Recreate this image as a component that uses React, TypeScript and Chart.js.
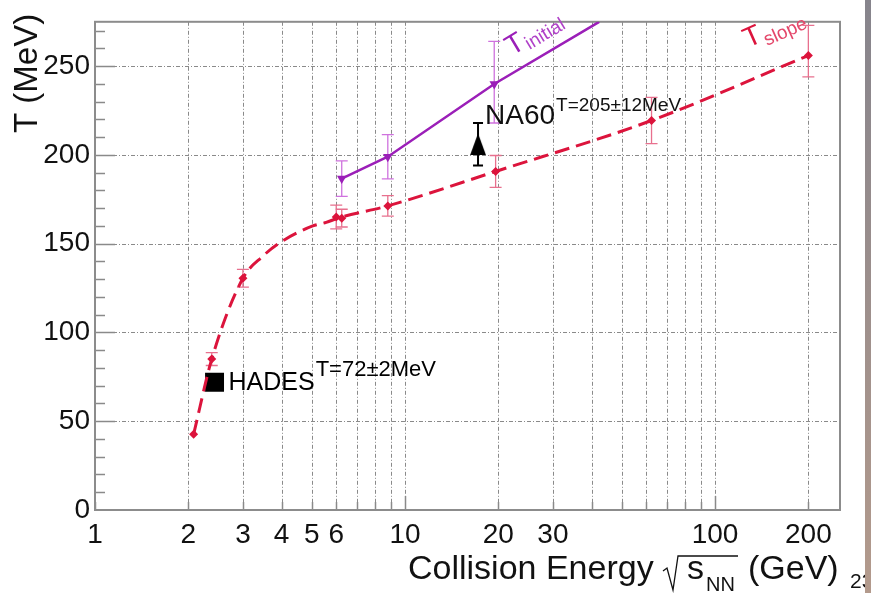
import React, { useEffect, useRef } from "react";
import { Chart, registerables } from "chart.js";

Chart.register(...registerables);

const FONT = "'Liberation Sans', Arial, Helvetica, sans-serif";

// ---- axes ----
const xGridValues = [1, 2, 3, 4, 5, 6, 7, 8, 9, 10, 20, 30, 40, 50, 60, 70, 80, 90, 100, 200];
const xLabelValues = [1, 2, 3, 4, 5, 6, 10, 20, 30, 100, 200];
const yTickValues = [0, 50, 100, 150, 200, 250];
const yMinorTickValues = [10, 20, 30, 40, 50, 60, 70, 80, 90, 100, 110, 120, 130, 140, 150, 160, 170, 180, 190, 200, 210, 220, 230, 240, 250, 260, 270];

// ---- T_slope (red, dashed) ----
const slopeEnergy = [2.08, 2.38, 3.0, 6.0, 6.25, 8.8, 19.6, 62.4, 200];
const slopeT = [42.6, 85, 130.5, 165, 164.4, 171.3, 190.7, 219.4, 256];
const slopeErrUp = [0, 3.6, 5, 6.7, 5, 5.8, 9, 13, 17];
const slopeErrDown = [0, 3.6, 5, 6.7, 5, 5.8, 9, 13, 12];
const slopeCurveEnergy = [2.08, 2.38, 3.0, 3.48, 3.94, 5.04, 5.57, 6.1, 8.8, 19.6, 62.4, 200];
const slopeCurveT = [42.6, 85, 130.5, 143, 150.5, 160, 162, 164.5, 171.3, 190.7, 219.4, 256];

// ---- T_initial (purple, solid) ----
const initialEnergy = [6.25, 8.8, 19.4];
const initialT = [186.7, 199, 240];
const initialErrUp = [10, 12.5, 24];
const initialErrDown = [10, 12.5, 22];
const initialLineEnergy = [6.25, 8.8, 19.4, 42.3];
const initialLineT = [186.7, 199, 240, 275];

// ---- single measurements ----
const na60Energy = [17.2];
const na60T = [206];
const na60Err = [12];
const hadesEnergy = [2.43];
const hadesT = [72];

const RED = "#dc143c";
const RED_ERR = "#e8708e";
const PURPLE = "#9b1fb8";
const PURPLE_ERR = "#cf72de";

const pts = (xs: number[], ys: number[]) => xs.map((v, i) => ({ x: v, y: ys[i] }));

function makeTriangleUp(): HTMLCanvasElement {
  const c = document.createElement("canvas");
  c.width = 16;
  c.height = 22;
  const g = c.getContext("2d")!;
  g.fillStyle = "#000";
  g.beginPath();
  g.moveTo(8, 0);
  g.lineTo(16, 22);
  g.lineTo(0, 22);
  g.closePath();
  g.fill();
  return c;
}

function drawErrors(
  ctx: CanvasRenderingContext2D,
  chart: any,
  xs: number[],
  ys: number[],
  up: number[],
  down: number[],
  color: string,
  lw: number,
  cap: number
) {
  const sx = chart.scales.x;
  const sy = chart.scales.y;
  ctx.save();
  ctx.strokeStyle = color;
  ctx.lineWidth = lw;
  ctx.setLineDash([]);
  xs.forEach((xv, i) => {
    if (!up[i] && !down[i]) return;
    const px = sx.getPixelForValue(xv);
    const top = sy.getPixelForValue(ys[i] + up[i]);
    const bot = sy.getPixelForValue(ys[i] - down[i]);
    ctx.beginPath();
    ctx.moveTo(px, top);
    ctx.lineTo(px, bot);
    ctx.moveTo(px - cap, top);
    ctx.lineTo(px + cap, top);
    ctx.moveTo(px - cap, bot);
    ctx.lineTo(px + cap, bot);
    ctx.stroke();
  });
  ctx.restore();
}

function supText(
  ctx: CanvasRenderingContext2D,
  x: number,
  base: number,
  main: string,
  mainSize: number,
  sup: string,
  supSize: number,
  rise: number
) {
  ctx.font = `${mainSize}px ${FONT}`;
  ctx.fillText(main, x, base);
  const w = ctx.measureText(main).width;
  ctx.font = `${supSize}px ${FONT}`;
  ctx.fillText(sup, x + w + 1, base - rise);
}

function rotLabel(
  ctx: CanvasRenderingContext2D,
  x: number,
  y: number,
  deg: number,
  colMain: string,
  colSub: string,
  sub: string,
  subDy: number
) {
  ctx.save();
  ctx.translate(x, y);
  ctx.rotate((deg * Math.PI) / 180);
  ctx.textAlign = "left";
  ctx.textBaseline = "alphabetic";
  ctx.fillStyle = colMain;
  ctx.font = `28px ${FONT}`;
  ctx.fillText("T", 0, 0);
  const w = ctx.measureText("T").width;
  ctx.fillStyle = colSub;
  ctx.font = `19px ${FONT}`;
  ctx.fillText(sub, w + 1, subDy);
  ctx.restore();
}

const rootPlugin = {
  id: "rootStyle",
  beforeDatasetsDraw(chart: any) {
    const { ctx, chartArea: a } = chart;
    const sx = chart.scales.x;
    const sy = chart.scales.y;
    ctx.save();
    // dotted grid
    ctx.strokeStyle = "#8a8a8a";
    ctx.lineWidth = 1;
    ctx.setLineDash([4, 2, 1, 2]);
    for (const v of xGridValues) {
      if (v === 1) continue;
      const px = Math.round(sx.getPixelForValue(v)) + 0.5;
      ctx.beginPath();
      ctx.moveTo(px, a.top);
      ctx.lineTo(px, a.bottom);
      ctx.stroke();
    }
    for (const v of yTickValues) {
      if (v === 0) continue;
      const py = Math.round(sy.getPixelForValue(v)) + 0.5;
      ctx.beginPath();
      ctx.moveTo(a.left, py);
      ctx.lineTo(a.right, py);
      ctx.stroke();
    }
    ctx.setLineDash([]);
    // tick marks
    ctx.strokeStyle = "#8a8a8a";
    ctx.lineWidth = 1.5;
    for (const v of yMinorTickValues) {
      const py = Math.round(sy.getPixelForValue(v)) + 0.5;
      const len = v % 50 === 0 ? 20 : 10;
      ctx.beginPath();
      ctx.moveTo(a.left, py);
      ctx.lineTo(a.left + len, py);
      ctx.stroke();
    }
    for (const v of xGridValues) {
      const px = Math.round(sx.getPixelForValue(v)) + 0.5;
      const len = v === 10 || v === 100 ? 14 : 8;
      ctx.beginPath();
      ctx.moveTo(px, a.bottom);
      ctx.lineTo(px, a.bottom - len);
      ctx.stroke();
    }
    // frame
    ctx.strokeStyle = "#8c8c8c";
    ctx.lineWidth = 2;
    ctx.strokeRect(a.left, a.top, a.right - a.left, a.bottom - a.top);
    // error bars
    drawErrors(ctx, chart, slopeEnergy, slopeT, slopeErrUp, slopeErrDown, RED_ERR, 1.3, 6);
    drawErrors(ctx, chart, initialEnergy, initialT, initialErrUp, initialErrDown, PURPLE_ERR, 1.3, 6);
    drawErrors(ctx, chart, na60Energy, na60T, na60Err, na60Err, "#000", 2, 5);
    ctx.restore();
  },
  afterDatasetsDraw(chart: any) {
    const { ctx } = chart;
    const sx = chart.scales.x;
    const sy = chart.scales.y;
    ctx.save();
    ctx.textAlign = "left";
    ctx.textBaseline = "alphabetic";
    ctx.fillStyle = "#000";
    // HADES label
    const hx = sx.getPixelForValue(hadesEnergy[0]);
    const hy = sy.getPixelForValue(hadesT[0]);
    supText(ctx, hx + 14, hy + 8, "HADES", 25, "T=72\u00b12MeV", 22, 14);
    // NA60 label
    const nx = sx.getPixelForValue(na60Energy[0]);
    const ny = sy.getPixelForValue(na60T[0]);
    ctx.fillStyle = "#111";
    supText(ctx, nx + 7, ny - 20, "NA60", 28, "T=205\u00b112MeV", 19, 13);
    // rotated curve labels
    rotLabel(ctx, 512, 56, -31, PURPLE, "#b041c8", "initial", 4);
    rotLabel(ctx, 748, 48, -24, RED, "#e4476a", "slope", 6);
    ctx.restore();
  },
  afterDraw(chart: any) {
    const { ctx } = chart;
    ctx.save();
    ctx.fillStyle = "#000";
    ctx.textBaseline = "alphabetic";
    ctx.textAlign = "left";
    // y title
    ctx.save();
    ctx.translate(37, 133);
    ctx.rotate(-Math.PI / 2);
    ctx.font = `33px ${FONT}`;
    ctx.fillStyle = "#111";
    ctx.fillText("T (MeV)", 0, 0);
    ctx.restore();
    // x title
    ctx.fillStyle = "#111";
    ctx.font = `34px ${FONT}`;
    ctx.fillText("Collision Energy", 408, 579);
    ctx.strokeStyle = "#111";
    ctx.lineWidth = 1.3;
    ctx.beginPath();
    ctx.moveTo(663, 571);
    ctx.lineTo(667, 568);
    ctx.lineTo(673, 590);
    ctx.lineTo(678, 556);
    ctx.lineTo(738, 556);
    ctx.stroke();
    ctx.font = `34px ${FONT}`;
    ctx.fillText("s", 687, 579);
    ctx.font = `20px ${FONT}`;
    ctx.fillText("NN", 706, 591);
    ctx.font = `34px ${FONT}`;
    ctx.fillText("(GeV)", 748, 579);
    ctx.font = `21px ${FONT}`;
    ctx.fillText("23", 850, 588);
    // right edge strip
    const grad = ctx.createLinearGradient(0, 0, 0, 593);
    grad.addColorStop(0, "#86848c");
    grad.addColorStop(1, "#b39a8c");
    ctx.fillStyle = grad;
    ctx.fillRect(865, 0, 6, 593);
    ctx.restore();
  },
};

export default function App() {
  const ref = useRef<HTMLCanvasElement | null>(null);
  useEffect(() => {
    if (!ref.current) return;
    const tri = makeTriangleUp();
    const chart = new Chart(ref.current, {
      type: "scatter",
      data: {
        datasets: [
          {
            label: "T_slope curve",
            data: pts(slopeCurveEnergy, slopeCurveT),
            showLine: true,
            borderColor: RED,
            borderWidth: 3,
            borderDash: [15, 7],
            pointRadius: 0,
            cubicInterpolationMode: "monotone",
          },
          {
            label: "T_initial line",
            data: pts(initialLineEnergy, initialLineT),
            showLine: true,
            borderColor: PURPLE,
            borderWidth: 2.5,
            pointRadius: 0,
          },
          {
            label: "T_slope",
            data: pts(slopeEnergy, slopeT),
            showLine: false,
            pointStyle: "rectRot",
            pointRadius: 4.5,
            backgroundColor: RED,
            borderColor: RED,
            borderWidth: 0,
          },
          {
            label: "T_initial",
            data: pts(initialEnergy, initialT),
            showLine: false,
            pointStyle: "triangle",
            rotation: 180,
            pointRadius: 5.5,
            backgroundColor: PURPLE,
            borderColor: PURPLE,
            borderWidth: 0,
          },
          {
            label: "NA60",
            data: pts(na60Energy, na60T),
            showLine: false,
            pointStyle: tri,
            pointRadius: 10,
          },
          {
            label: "HADES",
            data: pts(hadesEnergy, hadesT),
            showLine: false,
            pointStyle: "rect",
            pointRadius: 13.4,
            backgroundColor: "#000",
            borderColor: "#000",
            borderWidth: 0,
          },
        ],
      },
      options: {
        animation: false,
        responsive: false,
        maintainAspectRatio: false,
        layout: { padding: { top: 13, right: 31, left: 0, bottom: 0 } },
        plugins: { legend: { display: false }, tooltip: { enabled: false } },
        scales: {
          x: {
            type: "logarithmic",
            min: 1,
            max: 253,
            afterBuildTicks: (s: any) => {
              s.ticks = xGridValues.map((v) => ({ value: v }));
            },
            afterFit: (s: any) => {
              s.height = 83;
            },
            grid: { display: false, drawTicks: false },
            border: { display: false },
            ticks: {
              autoSkip: false,
              maxRotation: 0,
              padding: 8,
              color: "#111",
              font: { family: FONT, size: 28 },
              callback: (v: any) => (xLabelValues.includes(Number(v)) ? String(v) : ""),
            },
          },
          y: {
            type: "linear",
            min: 0,
            max: 275,
            afterBuildTicks: (s: any) => {
              s.ticks = yTickValues.map((v) => ({ value: v }));
            },
            afterFit: (s: any) => {
              s.width = 95;
            },
            grid: { display: false, drawTicks: false },
            border: { display: false },
            ticks: {
              padding: 5,
              color: "#111",
              font: { family: FONT, size: 28 },
            },
          },
        },
      },
      plugins: [rootPlugin],
    } as any);
    return () => chart.destroy();
  }, []);
  return (
    <div style={{ position: "absolute", left: 0, top: 0, width: 871, height: 593, background: "#fff" }}>
      <canvas ref={ref} width={871} height={593} style={{ display: "block" }} />
    </div>
  );
}
